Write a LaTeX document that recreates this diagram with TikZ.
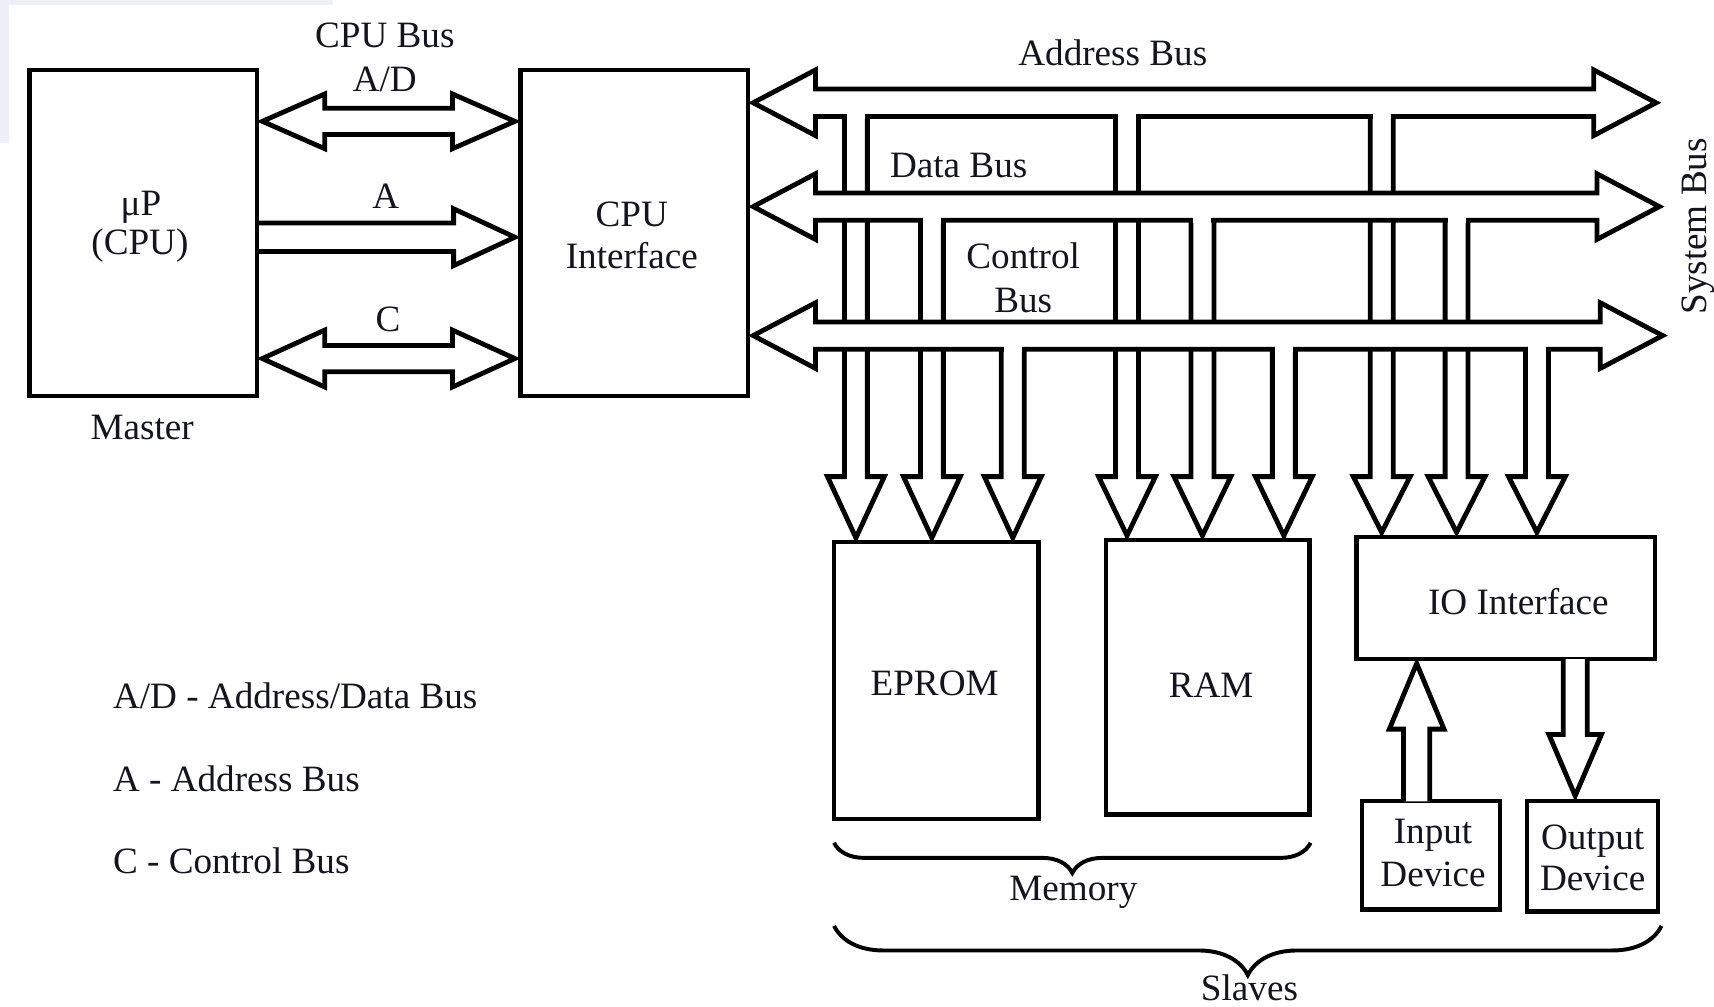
\documentclass[tikz,border=0pt]{standalone}
\usepackage{fontspec}
\setmainfont{Liberation Serif}
\usetikzlibrary{decorations.pathreplacing}
\definecolor{patch}{RGB}{237,241,247}
\definecolor{ink}{RGB}{20,20,30}
% horizontal bus: #1 left tip, #2 right tip, #3 centre y, #4 half shaft, #5 half head, #6 head length
\newcommand\hbusdraw[6]{%
  \filldraw[bus] (#1,#3) -- ({#1+#6},{#3-#5}) -- ({#1+#6},{#3-#4}) -- ({#2-#6},{#3-#4})
    -- ({#2-#6},{#3-#5}) -- (#2,#3) -- ({#2-#6},{#3+#5}) -- ({#2-#6},{#3+#4})
    -- ({#1+#6},{#3+#4}) -- ({#1+#6},{#3+#5}) -- cycle;}
% downward drop: #1 centre x, #2 top y (bus centre), #3 head base y, #4 tip y
\newcommand\dropdraw[4]{%
  \filldraw[bus] ({#1-10.5},#2) -- ({#1-10.5},#3) -- ({#1-26},#3) -- (#1,#4)
    -- ({#1+26},#3) -- ({#1+10.5},#3) -- ({#1+10.5},#2);}
% opening of a drop into its bus: #1 centre x, #2 bus centre y
\newcommand\dropopen[2]{%
  \fill[white] ({#1-8.2},#2) rectangle ({#1+8.2},{#2+15.2});}
\begin{document}
\begin{tikzpicture}[x=0.5pt, y=-0.5pt,
  box/.style={draw, line width=2pt, inner sep=0pt, fill=white},
  bus/.style={draw, fill=white, line width=2.2pt, line join=miter, miter limit=10},
  lbl/.style={font=\fontsize{17}{19}\selectfont, text=ink, inner sep=0pt, anchor=base},
  brc/.style={draw, line width=1.8pt, decorate}
]
\useasboundingbox (0,0) rectangle (1568,921);
% background patch
\fill[patch] (0,0) rectangle (305,5);
\fill[patch] (0,0) rectangle (8,131);

% boxes
\node[box, minimum width=104pt, minimum height=149pt] (master) at (131,213) {};
\node[box, minimum width=104pt, minimum height=149pt] (cpui) at (580,213) {};
\node[box, minimum width=93.5pt, minimum height=126.5pt] (eprom) at (856.5,622.5) {};
\node[box, minimum width=93pt, minimum height=125.5pt] (ram) at (1105,619.5) {};
\node[box, minimum width=136.5pt, minimum height=56pt] (io) at (1377.5,547) {};
\node[box, minimum width=63pt, minimum height=49.5pt] (indev) at (1309,782.5) {};
\node[box, minimum width=60pt, minimum height=50.5pt] (outdev) at (1457,783.5) {};

% CPU bus (left)
\hbusdraw{240}{471}{111}{12}{25}{57}
\filldraw[bus] (237,204) -- (415,204) -- (415,191) -- (471,217) -- (415,243) -- (415,230) -- (237,230);
\hbusdraw{240}{471}{328}{12}{26}{57}

% drops from the system bus
\dropdraw{783}{94}{436}{492}
\dropdraw{852.5}{189}{436}{492}
\dropdraw{926.5}{307}{436}{492}
\dropdraw{1031}{94}{436}{490}
\dropdraw{1100}{189}{436}{490}
\dropdraw{1174.5}{307}{436}{490}
\dropdraw{1264}{94}{436}{487}
\dropdraw{1332.5}{189}{436}{487}
\dropdraw{1406}{307}{436}{487}

% system bus lines
\hbusdraw{689}{1515}{94}{12.5}{30}{57}
\hbusdraw{689}{1518}{189}{12.5}{30}{57}
\hbusdraw{689}{1521}{307}{12.5}{30}{57}

% openings
\dropopen{783}{94}
\dropopen{1031}{94}
\dropopen{1264}{94}
\dropopen{852.5}{189}
\dropopen{1100}{189}
\dropopen{1332.5}{189}
\dropopen{926.5}{307}
\dropopen{1174.5}{307}
\dropopen{1406}{307}

% IO device arrows
\filldraw[bus] (1284,733) -- (1284,667) -- (1271,667) -- (1296,607) -- (1321,667) -- (1308,667) -- (1308,733);
\filldraw[bus] (1430,603) -- (1430,672) -- (1417,672) -- (1441,728) -- (1465,672) -- (1452,672) -- (1452,603);

% braces
\draw[brc, decoration={brace, mirror, amplitude=13.8pt}] (763,771) -- (1199,771);
\draw[brc, decoration={brace, mirror, amplitude=22.5pt}] (763,847) -- (1520,847);

% texts
\node[lbl] (tcpubus) at (352,43) {CPU Bus};
\node[lbl] (tad) at (352,84) {A/D};
\node[lbl] (ta) at (353,191) {A};
\node[lbl] (tc) at (355,303) {C};
\node[lbl] (tmu) at (129,197) {μP};
\node[lbl] (tcpu) at (128,233) {(CPU)};
\node[lbl] (tmaster) at (130,402) {Master};
\node[lbl] (tcpui1) at (578,207) {CPU};
\node[lbl] (tcpui2) at (578,246) {Interface};
\node[lbl] (taddr) at (1018,60) {Address Bus};
\node[lbl] (tdata) at (877,162) {Data Bus};
\node[lbl] (tctl1) at (936,246) {Control};
\node[lbl] (tctl2) at (936,286) {Bus};
\node[lbl, rotate=90] (tsys) at (1561,207) {System Bus};
\node[lbl] (teprom) at (855,636) {EPROM};
\node[lbl] (tram) at (1108,638) {RAM};
\node[lbl] (tio) at (1389,562) {IO Interface};
\node[lbl] (tin1) at (1311,772) {Input};
\node[lbl] (tin2) at (1311,811) {Device};
\node[lbl] (tout1) at (1457,777) {Output};
\node[lbl] (tout2) at (1457,815) {Device};
\node[lbl] (tmem) at (982,824) {Memory};
\node[lbl] (tslv) at (1143,915) {Slaves};
\node[lbl, anchor=base west] (leg1) at (103,648) {A/D - Address/Data Bus};
\node[lbl, anchor=base west] (leg2) at (103,724) {A - Address Bus};
\node[lbl, anchor=base west] (leg3) at (103,799) {C - Control Bus};
\end{tikzpicture}
\end{document}
